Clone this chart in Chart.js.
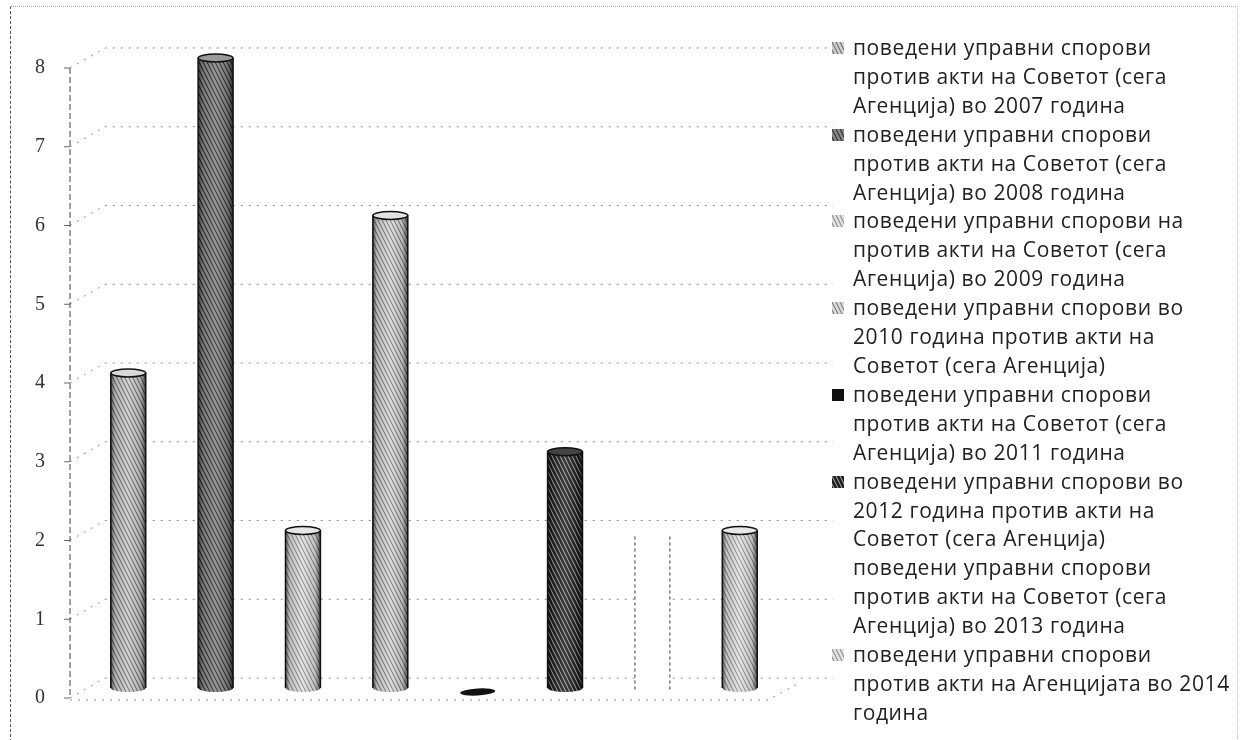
<!DOCTYPE html>
<html>
<head>
<meta charset="utf-8">
<script src="https://cdn.jsdelivr.net/npm/chart.js@4.4.1/dist/chart.umd.min.js"></script>
<style>
  body { margin: 0; background: #fff; }
  #wrap { position: relative; width: 1242px; height: 740px; overflow: hidden; }
  #frame { position: absolute; left: 10px; top: 6px; width: 1226px; height: 740px;
           border-left: 1px dashed #555; border-top: 1px dotted #aaa; border-right: 1px dotted #bbb; }
  #legend { position: absolute; left: 830px; top: 33px; font-family: 'Open Sans'; font-size: 21px;
            letter-spacing: 0.6px; line-height: 28.9px; color: #222; white-space: nowrap; }
  .item { position: relative; padding-left: 23px; }
  .item canvas { position: absolute; left: 2px; top: 9px; }
</style>
</head>
<body>
<div id="wrap">
  <div id="frame"></div>
  <canvas id="chart" width="1242" height="740"></canvas>
  <div id="legend"></div>
</div>
<script>
// data
const categories = [''];
const values = [4, 8, 2, 6, 0, 3, 2, 2];
const seriesLines = [
  ['поведени управни спорови', 'против акти на Советот (сега', 'Агенција) во 2007 година'],
  ['поведени управни спорови', 'против акти на Советот (сега', 'Агенција) во 2008 година'],
  ['поведени управни спорови на', 'против акти на Советот (сега', 'Агенција) во 2009 година'],
  ['поведени управни спорови во', '2010 година против акти на', 'Советот (сега Агенција)'],
  ['поведени управни спорови', 'против акти на Советот (сега', 'Агенција) во 2011 година'],
  ['поведени управни спорови во', '2012 година против акти на', 'Советот (сега Агенција)'],
  ['поведени управни спорови', 'против акти на Советот (сега', 'Агенција) во 2013 година'],
  ['поведени управни спорови', 'против акти на Агенцијата во 2014', 'година']
];
const yTicks = [0, 1, 2, 3, 4, 5, 6, 7, 8];

// grey hatch fills, like the scanned print
function hatch(base, line) {
  const c = document.createElement('canvas');
  c.width = 4; c.height = 8;
  const x = c.getContext('2d');
  x.fillStyle = base; x.fillRect(0, 0, 4, 8);
  x.strokeStyle = line; x.lineWidth = 1.1;
  x.beginPath();
  x.moveTo(0, 0); x.lineTo(4, 8);
  x.moveTo(-2, 4); x.lineTo(0, 8);
  x.moveTo(4, 0); x.lineTo(6, 4);
  x.stroke();
  return x.createPattern(c, 'repeat');
}
const looks = [
  { base: '#cfcfcf', line: '#6f6f6f', top: '#d8d8d8' },
  { base: '#8a8a8a', line: '#2e2e2e', top: '#9a9a9a' },
  { base: '#e2e2e2', line: '#8c8c8c', top: '#e6e6e6' },
  { base: '#dadada', line: '#7e7e7e', top: '#e2e2e2' },
  { base: '#111111', line: '#111111', top: '#111111' },
  { base: '#1e1e1e', line: '#9a9a9a', top: '#444444' },
  { base: '#ffffff', line: '#ffffff', top: '#ffffff', dashed: true },
  { base: '#e4e4e4', line: '#909090', top: '#e8e8e8' }
];
looks.forEach(l => { l.fill = hatch(l.base, l.line); });

// 3D depth of the back wall
const DX = 35, DF = 10, DB = 10;

const wallPlugin = {
  id: 'wall',
  beforeDatasetsDraw(chart) {
    const { ctx, chartArea: a, scales: { y } } = chart;
    const ax = a.left;
    ctx.save();
    ctx.strokeStyle = '#888';
    ctx.lineWidth = 1;
    ctx.setLineDash([2, 6]);
    y.ticks.forEach(t => {
      const py = y.getPixelForValue(t.value);
      ctx.beginPath();
      ctx.moveTo(ax, py + DF);
      ctx.lineTo(ax + DX, py - DB);
      ctx.lineTo(a.right + DX, py - DB);
      ctx.stroke();
    });
    const y0 = y.getPixelForValue(0);
    ctx.beginPath();
    ctx.moveTo(ax, y0 + DF + 2);
    ctx.lineTo(a.right - 30, y0 + DF + 2);
    ctx.lineTo(a.right + 3, y0 - DB + 4);
    ctx.stroke();
    // front value axis with tick marks
    ctx.setLineDash([6, 3]);
    ctx.strokeStyle = '#444';
    ctx.beginPath();
    ctx.moveTo(ax, y.getPixelForValue(8) + DF);
    ctx.lineTo(ax, y0 + DF);
    ctx.stroke();
    ctx.setLineDash([]);
    ctx.strokeStyle = '#666';
    y.ticks.forEach(t => {
      const py = y.getPixelForValue(t.value) + DF;
      ctx.beginPath();
      ctx.moveTo(ax - 6, py);
      ctx.lineTo(ax, py);
      ctx.stroke();
    });
    ctx.restore();
  }
};

const cylinderPlugin = {
  id: 'cylinder',
  afterDatasetsDraw(chart) {
    const ctx = chart.ctx;
    chart.data.datasets.forEach((ds, i) => {
      const look = looks[i];
      chart.getDatasetMeta(i).data.forEach(bar => {
        const { x, y, base, width } = bar.getProps(['x', 'y', 'base', 'width'], true);
        const l = x - width / 2, r = x + width / 2, rx = width / 2, ry = 4;
        ctx.save();
        if (base - y < 1) {
          ctx.beginPath();
          ctx.ellipse(x, base + 4, rx, 3.5, -0.06, 0, Math.PI * 2);
          ctx.fillStyle = '#111';
          ctx.fill();
          ctx.restore();
          return;
        }
        if (look.dashed) {
          ctx.setLineDash([3, 3]);
          ctx.strokeStyle = '#555';
          ctx.lineWidth = 1.2;
          ctx.beginPath();
          ctx.moveTo(l, y + 6); ctx.lineTo(l, base + 4);
          ctx.moveTo(r, y + 6); ctx.lineTo(r, base + 4);
          ctx.stroke();
          ctx.restore();
          return;
        }
        const g = ctx.createLinearGradient(l, 0, r, 0);
        g.addColorStop(0, 'rgba(0,0,0,0.6)');
        g.addColorStop(0.12, 'rgba(0,0,0,0.15)');
        g.addColorStop(0.5, 'rgba(255,255,255,0.12)');
        g.addColorStop(0.85, 'rgba(0,0,0,0.15)');
        g.addColorStop(1, 'rgba(0,0,0,0.65)');
        ctx.fillStyle = g;
        ctx.fillRect(l, y, width, base - y);
        ctx.beginPath();
        ctx.ellipse(x, base, rx, ry, 0, 0, Math.PI);
        ctx.fillStyle = look.fill; ctx.fill();
        ctx.fillStyle = g; ctx.fill();
        ctx.beginPath();
        ctx.ellipse(x, y, rx, ry, 0, 0, Math.PI * 2);
        ctx.fillStyle = look.top; ctx.fill();
        ctx.strokeStyle = '#111'; ctx.lineWidth = 1.5; ctx.stroke();
        ctx.beginPath();
        ctx.moveTo(l, y); ctx.lineTo(l, base);
        ctx.moveTo(r, y); ctx.lineTo(r, base);
        ctx.stroke();
        ctx.restore();
      });
    });
  }
};

const chart = new Chart(document.getElementById('chart'), {
  type: 'bar',
  data: {
    labels: categories,
    datasets: values.map((v, i) => ({
      label: seriesLines[i].join(' '),
      data: [v],
      backgroundColor: looks[i].fill,
      borderWidth: 0
    }))
  },
  options: {
    responsive: false,
    animation: false,
    layout: { padding: { left: 0, top: 58, bottom: 52, right: 444 } },
    categoryPercentage: 0.96,
    barPercentage: 0.4,
    plugins: { legend: { display: false }, tooltip: { enabled: false } },
    scales: {
      x: { display: false },
      y: {
        min: 0, max: 8,
        afterBuildTicks: s => { s.ticks = yTicks.map(v => ({ value: v })); },
        afterFit: s => { s.width = 70; },
        grid: { display: false, drawTicks: false },
        border: { display: false },
        ticks: { padding: 25, labelOffset: 10, color: '#333', font: { family: 'Liberation Serif', size: 20 } }
      }
    }
  },
  plugins: [wallPlugin, cylinderPlugin]
});

// html legend built from the datasets
const legend = document.getElementById('legend');
chart.data.datasets.forEach((ds, i) => {
  const item = document.createElement('div');
  item.className = 'item';
  const sw = document.createElement('canvas');
  sw.width = 12; sw.height = 12;
  const sx = sw.getContext('2d');
  if (!looks[i].dashed) {
    sx.fillStyle = hatch(looks[i].base, looks[i].line);
    sx.fillRect(0, 0, 12, 12);
  }
  item.appendChild(sw);
  seriesLines[i].forEach(t => {
    const line = document.createElement('div');
    line.textContent = t;
    item.appendChild(line);
  });
  legend.appendChild(item);
});
</script>
</body>
</html>
